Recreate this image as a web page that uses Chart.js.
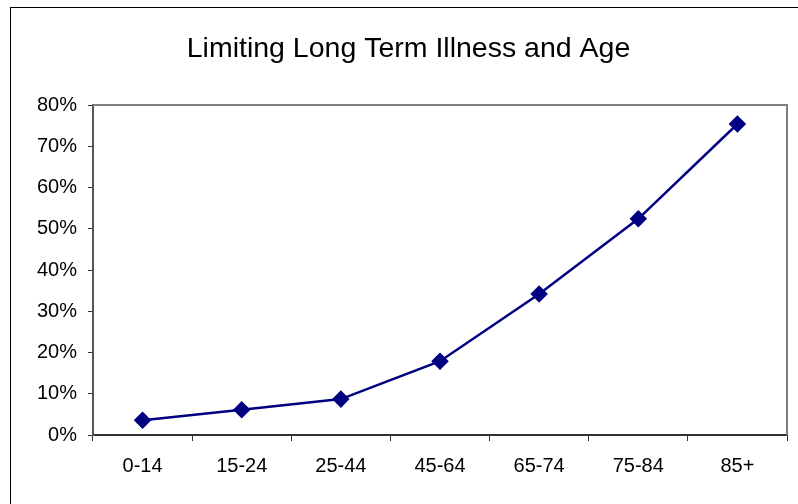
<!DOCTYPE html>
<html>
<head>
<meta charset="utf-8">
<script src="https://cdn.jsdelivr.net/npm/chart.js@4/dist/chart.umd.min.js"></script>
<style>
    html, body { margin: 0; padding: 0; background: #fff; }
    #wrap { width: 798px; height: 504px; }
</style>
</head>
<body>
<div id="wrap"><canvas id="chart" width="798" height="504"></canvas></div>
<script>
// data
let ageGroups = ['0-14', '15-24', '25-44', '45-64', '65-74', '75-84', '85+'];
let illnessShare = [0.036, 0.061, 0.087, 0.179, 0.342, 0.524, 0.754];
let titleText = 'Limiting Long Term Illness and Age';

// outer frame, plot frame and title
let framePlugin = {
    id: 'frame',
    beforeDraw: function (chart) {
        let ctx = chart.ctx;
        ctx.save();
        ctx.fillStyle = '#fff';
        ctx.fillRect(0, 0, chart.width, chart.height);
        ctx.strokeStyle = '#000';
        ctx.lineWidth = 1;
        ctx.strokeRect(10.5, 7.5, 800, 520);
        ctx.restore();
    },
    afterDraw: function (chart) {
        let ctx = chart.ctx;
        let a = chart.chartArea;
        ctx.save();
        ctx.strokeStyle = '#808080';
        ctx.lineWidth = 2;
        ctx.beginPath();
        ctx.moveTo(a.left, a.top);
        ctx.lineTo(a.right, a.top);
        ctx.lineTo(a.right, a.bottom);
        ctx.stroke();
        ctx.fillStyle = '#000';
        ctx.font = '28.5px "Liberation Sans", Arial, sans-serif';
        ctx.textAlign = 'center';
        ctx.textBaseline = 'alphabetic';
        ctx.fillText(titleText, 408.5, 57);
        ctx.restore();
    }
};

let ctx = document.getElementById('chart').getContext('2d');
let mychart = new Chart(ctx, {
    type: 'line',
    data: {
        labels: ageGroups,
        datasets: [{
            data: illnessShare,
            borderColor: '#000080',
            backgroundColor: '#000080',
            borderWidth: 2.5,
            pointStyle: 'rectRot',
            pointRadius: 7,
            pointHoverRadius: 7,
            tension: 0,
            fill: false
        }]
    },
    plugins: [framePlugin],
    options: {
        responsive: false,
        animation: false,
        events: [],
        layout: {
            padding: { top: 105, right: 11, left: 0, bottom: 0 }
        },
        plugins: {
            legend: { display: false },
            tooltip: { enabled: false },
            title: { display: false }
        },
        scales: {
            x: {
                offset: true,
                grid: {
                    offset: true,
                    drawOnChartArea: false,
                    tickLength: 6,
                    color: '#333',
                    lineWidth: 1
                },
                border: { color: '#333', width: 2 },
                ticks: {
                    color: '#000',
                    padding: 13,
                    maxRotation: 0,
                    font: { family: '"Liberation Sans", Arial, sans-serif', size: 20 }
                },
                afterFit: function (scale) { scale.height = 69; }
            },
            y: {
                min: 0,
                max: 0.8,
                grid: {
                    drawOnChartArea: false,
                    tickLength: 5,
                    color: '#333',
                    lineWidth: 1
                },
                border: { color: '#555', width: 2 },
                ticks: {
                    stepSize: 0.1,
                    color: '#000',
                    padding: 11,
                    font: { family: '"Liberation Sans", Arial, sans-serif', size: 20 },
                    callback: function (v) { return Math.round(v * 100) + '%'; }
                },
                afterFit: function (scale) { scale.width = 93; }
            }
        }
    }
});
</script>
</body>
</html>
